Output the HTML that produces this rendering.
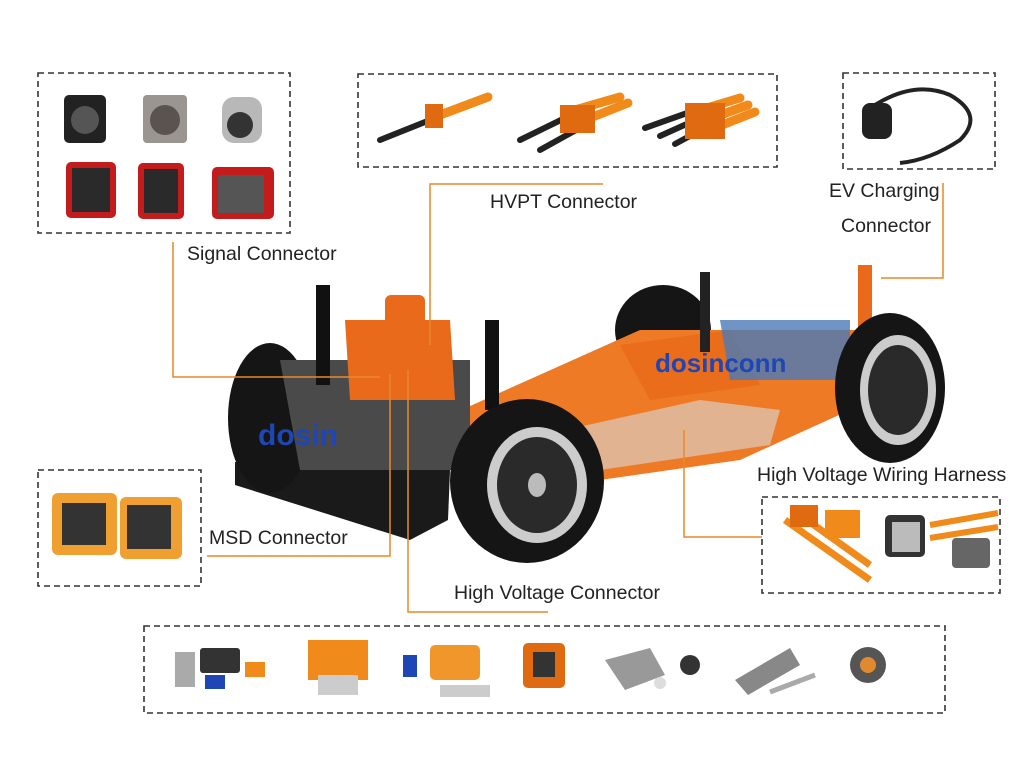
<!DOCTYPE html>
<html><head><meta charset="utf-8"><style>
html,body{margin:0;padding:0;background:#fff;}
svg{display:block}
text{font-family:"Liberation Sans",sans-serif;font-size:19.5px;fill:#222}
</style></head><body>
<svg width="1030" height="777" viewBox="0 0 1030 777">
<g fill="none" stroke="#333" stroke-width="1.6" stroke-dasharray="6,4">
<rect x="38" y="73" width="252" height="160"/>
<rect x="358" y="74" width="419" height="93"/>
<rect x="843" y="73" width="152" height="96"/>
<rect x="38" y="470" width="163" height="116"/>
<rect x="762" y="497" width="238" height="96"/>
<rect x="144" y="626" width="801" height="87"/>
</g>
<!-- car chassis -->
<g>
<polygon points="235,462 450,470 448,520 410,540 235,485" fill="#1a1a1a"/>
<ellipse cx="270" cy="418" rx="42" ry="75" fill="#151515"/>
<ellipse cx="663" cy="330" rx="48" ry="45" fill="#151515"/>
<polygon points="450,415 640,330 860,330 850,410 740,460 600,480 470,470" fill="#ee7a26"/>
<polygon points="520,440 700,400 780,410 770,445 600,470" fill="#d9d9d9" opacity="0.6"/>
<polygon points="620,345 730,330 760,385 650,400" fill="#e96d1b"/>
<polygon points="720,320 850,320 850,380 730,380" fill="#4a7ab8" opacity="0.8"/>
<polygon points="280,360 470,360 470,470 300,470" fill="#4a4a4a"/>
<polygon points="345,320 450,320 455,400 350,400" fill="#e86a1a"/>
<rect x="385" y="295" width="40" height="40" rx="6" fill="#e86a1a"/>
<rect x="316" y="285" width="14" height="100" fill="#111"/>
<rect x="485" y="320" width="14" height="90" fill="#111"/>
<rect x="700" y="272" width="10" height="80" fill="#222"/>
<rect x="858" y="265" width="14" height="80" fill="#e86a1a"/>
<ellipse cx="890" cy="388" rx="55" ry="75" fill="#151515"/>
<ellipse cx="898" cy="390" rx="38" ry="55" fill="#ccc"/>
<ellipse cx="898" cy="390" rx="30" ry="45" fill="#2a2a2a"/>
<ellipse cx="527" cy="481" rx="77" ry="82" fill="#151515"/>
<ellipse cx="537" cy="485" rx="50" ry="58" fill="#ccc"/>
<ellipse cx="537" cy="485" rx="40" ry="48" fill="#2a2a2a"/>
<ellipse cx="537" cy="485" rx="9" ry="12" fill="#bbb"/>
<text x="258" y="445" style="font-size:30px;fill:#1e46b4;font-weight:bold">dosin</text>
<text x="655" y="372" style="font-size:26px;fill:#1e46b4;font-weight:bold">dosinconn</text>
</g>
<g fill="none" stroke="#e8892a" stroke-width="1.5">
<polyline points="173,242 173,377 380,377"/>
<polyline points="603,184 430,184 430,345"/>
<polyline points="943,183 943,278 881,278"/>
<polyline points="207,556 390,556 390,374"/>
<polyline points="408,370 408,612 548,612"/>
<polyline points="684,430 684,537 762,537"/>
</g>
<text x="187" y="260">Signal Connector</text>
<text x="490" y="208">HVPT Connector</text>
<text x="829" y="197">EV Charging</text>
<text x="841" y="232">Connector</text>
<text x="757" y="481">High Voltage Wiring Harness</text>
<text x="209" y="544">MSD Connector</text>
<text x="454" y="599">High Voltage Connector</text>
<!-- signal connector products -->
<g>
<rect x="64" y="95" width="42" height="48" rx="5" fill="#222"/><circle cx="85" cy="120" r="14" fill="#555"/>
<rect x="143" y="95" width="44" height="48" rx="4" fill="#9a9590"/><circle cx="165" cy="120" r="15" fill="#5a5350"/>
<rect x="222" y="97" width="40" height="46" rx="12" fill="#b8b8b8"/><circle cx="240" cy="125" r="13" fill="#333"/>
<rect x="66" y="162" width="50" height="56" rx="5" fill="#c41c1c"/><rect x="72" y="168" width="38" height="44" fill="#2a2a2a"/>
<rect x="138" y="163" width="46" height="56" rx="5" fill="#c41c1c"/><rect x="144" y="169" width="34" height="44" fill="#2a2a2a"/>
<rect x="212" y="167" width="62" height="52" rx="5" fill="#c41c1c"/><rect x="218" y="175" width="46" height="38" fill="#555"/>
</g>
<!-- HVPT -->
<g stroke-linecap="round">
<line x1="380" y1="140" x2="430" y2="120" stroke="#222" stroke-width="6"/>
<line x1="440" y1="115" x2="488" y2="97" stroke="#f08a1a" stroke-width="9"/>
<rect x="425" y="104" width="18" height="24" fill="#e06a10"/>
<line x1="520" y1="140" x2="565" y2="118" stroke="#222" stroke-width="6"/><line x1="540" y1="150" x2="585" y2="125" stroke="#222" stroke-width="6"/>
<line x1="575" y1="110" x2="620" y2="97" stroke="#f08a1a" stroke-width="9"/><line x1="590" y1="118" x2="628" y2="103" stroke="#f08a1a" stroke-width="9"/>
<rect x="560" y="105" width="35" height="28" fill="#e06a10"/>
<line x1="645" y1="128" x2="690" y2="112" stroke="#222" stroke-width="6"/><line x1="660" y1="136" x2="700" y2="118" stroke="#222" stroke-width="6"/><line x1="675" y1="144" x2="712" y2="124" stroke="#222" stroke-width="6"/>
<line x1="700" y1="110" x2="740" y2="98" stroke="#f08a1a" stroke-width="9"/><line x1="712" y1="118" x2="748" y2="105" stroke="#f08a1a" stroke-width="9"/><line x1="722" y1="125" x2="755" y2="112" stroke="#f08a1a" stroke-width="9"/>
<rect x="685" y="103" width="40" height="36" fill="#e06a10"/>
</g>
<!-- EV charging -->
<path d="M875 105 Q915 80 950 95 Q985 115 960 140 Q930 160 900 163" fill="none" stroke="#222" stroke-width="4"/>
<rect x="862" y="103" width="30" height="36" rx="8" fill="#222"/>
<!-- MSD -->
<rect x="52" y="493" width="65" height="62" rx="6" fill="#f0a030"/><rect x="62" y="503" width="44" height="42" fill="#333"/>
<rect x="120" y="497" width="62" height="62" rx="6" fill="#f0a030"/><rect x="127" y="505" width="44" height="44" fill="#333"/>
<!-- harness -->
<line x1="785" y1="520" x2="870" y2="580" stroke="#f08a1a" stroke-width="7"/><line x1="800" y1="515" x2="870" y2="565" stroke="#f08a1a" stroke-width="7"/>
<rect x="790" y="505" width="28" height="22" fill="#e06a10"/><rect x="825" y="510" width="35" height="28" fill="#f08a1a"/>
<rect x="885" y="515" width="40" height="42" rx="5" fill="#333"/><rect x="892" y="522" width="28" height="30" fill="#bbb"/>
<line x1="930" y1="525" x2="998" y2="513" stroke="#f08a1a" stroke-width="6"/><line x1="930" y1="538" x2="998" y2="527" stroke="#f08a1a" stroke-width="6"/>
<rect x="952" y="538" width="38" height="30" rx="4" fill="#666"/>
<!-- bottom products -->
<g>
<rect x="175" y="652" width="20" height="35" fill="#aaa"/><rect x="200" y="648" width="40" height="25" rx="3" fill="#333"/><rect x="205" y="675" width="20" height="14" fill="#1e46b4"/><rect x="245" y="662" width="20" height="15" fill="#f08a1a"/>
<rect x="308" y="640" width="60" height="40" fill="#f08a1a"/><rect x="318" y="675" width="40" height="20" fill="#ccc"/>
<rect x="403" y="655" width="14" height="22" fill="#1e46b4"/><rect x="430" y="645" width="50" height="35" rx="5" fill="#f0962a"/><rect x="440" y="685" width="50" height="12" fill="#ccc"/>
<rect x="523" y="643" width="42" height="45" rx="5" fill="#e06a10"/><rect x="533" y="652" width="22" height="25" fill="#333"/>
<path d="M605 660 L650 648 L665 675 L625 690Z" fill="#999"/><circle cx="690" cy="665" r="10" fill="#333"/><circle cx="660" cy="683" r="6" fill="#ddd"/>
<path d="M735 680 L790 648 L800 665 L748 695Z" fill="#888"/><line x1="770" y1="692" x2="815" y2="675" stroke="#aaa" stroke-width="5"/>
<circle cx="868" cy="665" r="18" fill="#555"/><circle cx="868" cy="665" r="8" fill="#e08a30"/>
</g>
</svg>
</body></html>
